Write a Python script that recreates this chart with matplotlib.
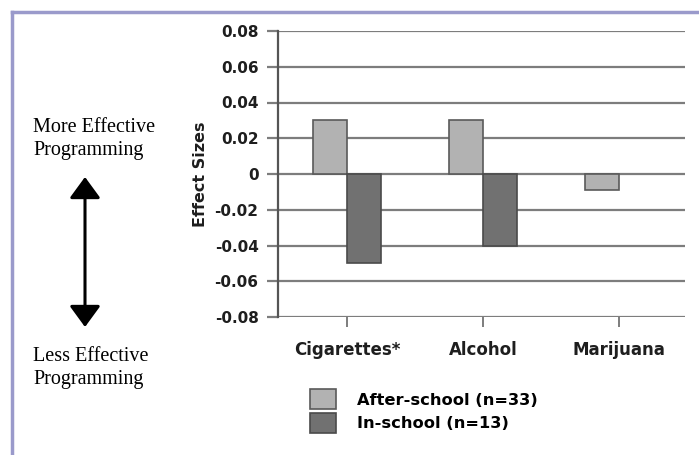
import numpy as np
import matplotlib.pyplot as plt
from matplotlib.lines import Line2D
from matplotlib.patches import FancyArrowPatch

# Data
categories = ['Cigarettes*', 'Alcohol', 'Marijuana']
after_school = [0.03, 0.03, -0.009]
in_school = [-0.05, -0.04, 0.0]
series_labels = ['After-school (n=33)', 'In-school (n=13)']
yticks = [0.08, 0.06, 0.04, 0.02, 0, -0.02, -0.04, -0.06, -0.08]
ytick_labels = ['0.08', '0.06', '0.04', '0.02', '0', '-0.02', '-0.04', '-0.06', '-0.08']

W, H = 699, 455
fig = plt.figure(figsize=(W / 100, H / 100), dpi=100)
ax = fig.add_axes([278 / W, 1 - 317 / H, (685 - 278) / W, (317 - 31) / H])

sans = 'DejaVu Sans'
serif = 'Liberation Serif'
light = '#b2b2b2'
dark = '#717171'
grid_col = '#7d7d7d'
txt = '#1e1e1e'

x = np.arange(len(categories))
w = 0.25
# no outline on zero-height bars
lw_after = [1.2 if v != 0 else 0 for v in after_school]
lw_in = [1.2 if v != 0 else 0 for v in in_school]
b1 = ax.bar(x - w / 2, after_school, w, color=light, edgecolor='#5a5a5a', linewidth=lw_after, zorder=3,
            label=series_labels[0])
b2 = ax.bar(x + w / 2, in_school, w, color=dark, edgecolor='#4a4a4a', linewidth=lw_in, zorder=3,
            label=series_labels[1])

ax.set_xlim(-0.507, 2.485)
ax.set_ylim(-0.08, 0.08)
ax.set_yticks(yticks)
ax.set_yticklabels(ytick_labels, fontfamily=sans, fontweight='bold', fontsize=11, color=txt)
ax.set_xticks(x)
ax.set_xticklabels(categories, fontfamily=sans, fontweight='bold', fontsize=12, color=txt)

for y in yticks:
    ax.axhline(y, color=grid_col, linewidth=1.6, zorder=1)

for s in ['top', 'right', 'bottom']:
    ax.spines[s].set_visible(False)
ax.spines['left'].set_color('#555555')
ax.spines['left'].set_linewidth(1.6)
ax.tick_params(axis='y', length=8, width=1.6, color=grid_col, pad=6)
ax.tick_params(axis='x', length=7, width=1.4, color=grid_col, pad=10)

ax.set_ylabel('Effect Sizes', fontfamily=sans, fontweight='bold', fontsize=11.5, labelpad=5, color=txt)

# legend below the chart
fig.legend([b1, b2], series_labels, loc='upper left', bbox_to_anchor=(302 / W, 1 - 381 / H),
           frameon=False, borderpad=0, labelspacing=0.2, handlelength=1.6, handleheight=1.55,
           handletextpad=1.3, prop={'family': sans, 'weight': 'bold', 'size': 11.7})

# left side annotations
fig.text(33 / W, 1 - 139 / H, 'More Effective\nProgramming', fontfamily=serif, fontsize=14.5,
         ha='left', va='center', linespacing=1.25, color='black')
fig.text(33 / W, 1 - 368 / H, 'Less Effective\nProgramming', fontfamily=serif, fontsize=14.5,
         ha='left', va='center', linespacing=1.25, color='black')
arrow = FancyArrowPatch((85 / W, 1 - 327 / H), (85 / W, 1 - 177 / H), transform=fig.transFigure,
                        arrowstyle='<|-|>,head_length=1.3,head_width=0.95', mutation_scale=10,
                        color='black', linewidth=2.2, shrinkA=0, shrinkB=0)
fig.add_artist(arrow)

# page frame
frame = '#9a9acb'
fig.add_artist(Line2D([12 / W, 1], [1 - 12 / H, 1 - 12 / H], transform=fig.transFigure, color=frame, linewidth=2.5))
fig.add_artist(Line2D([12 / W, 12 / W], [1 - 12 / H, 0], transform=fig.transFigure, color=frame, linewidth=2.5))

fig.savefig('out.png', dpi=100)
